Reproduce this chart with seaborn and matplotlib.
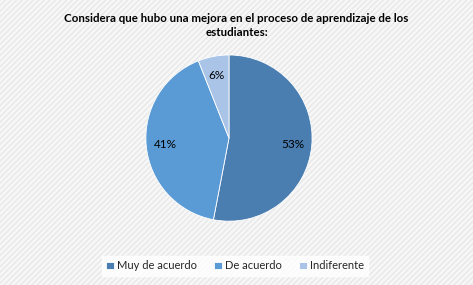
import matplotlib
matplotlib.use("Agg")
import matplotlib.pyplot as plt
import seaborn as sns
from matplotlib.patches import Rectangle

sns.set_theme(style="white")
plt.rcParams['font.family'] = ['Lato', 'DejaVu Sans']

# datos
categorias = ["Muy de acuerdo", "De acuerdo", "Indiferente"]
porcentajes = [53, 41, 6]
colores = ["#4A7EB0", "#5B9BD5", "#A9C4E6"]
titulo = "Considera que hubo una mejora en el proceso de aprendizaje de los\nestudiantes:"

fig = plt.figure(figsize=(4.73, 2.85), dpi=100)
fig.patch.set_facecolor("#f4f4f4")

# fondo rayado
fondo = Rectangle((0, 0), 1, 1, transform=fig.transFigure, facecolor="#f7f7f7",
                  edgecolor="#e8e8e8", hatch="//////", linewidth=0, zorder=-10)
fig.patches.append(fondo)

ax = fig.add_axes([0.3066, 0.221, 0.355, 0.589])
ax.set_facecolor("none")

wedges, texts, autotexts = ax.pie(
    porcentajes, colors=colores, startangle=90, counterclock=False,
    autopct=lambda p: f"{round(p):d}%", pctdistance=0.77,
    wedgeprops=dict(edgecolor="white", linewidth=0.6),
    textprops=dict(fontsize=8.5, color="black"))
ax.set_xlim(-1.01, 1.01)
ax.set_ylim(-1.01, 1.01)
ax.set_aspect("equal")

fig.text(0.5, 0.955, titulo, ha="center", va="top", fontsize=8.3,
         fontweight="bold", color="black", linespacing=1.3)

leg = fig.legend(wedges, categorias, loc="center", bbox_to_anchor=(0.497, 0.067),
                 ncol=3, frameon=True, fontsize=8, handlelength=0.7,
                 handleheight=0.7, handletextpad=0.3, columnspacing=1.5,
                 borderpad=0.4, fancybox=False)
leg.get_frame().set_facecolor("white")
leg.get_frame().set_edgecolor("white")

fig.savefig("out.png", dpi=100, facecolor=fig.get_facecolor())
